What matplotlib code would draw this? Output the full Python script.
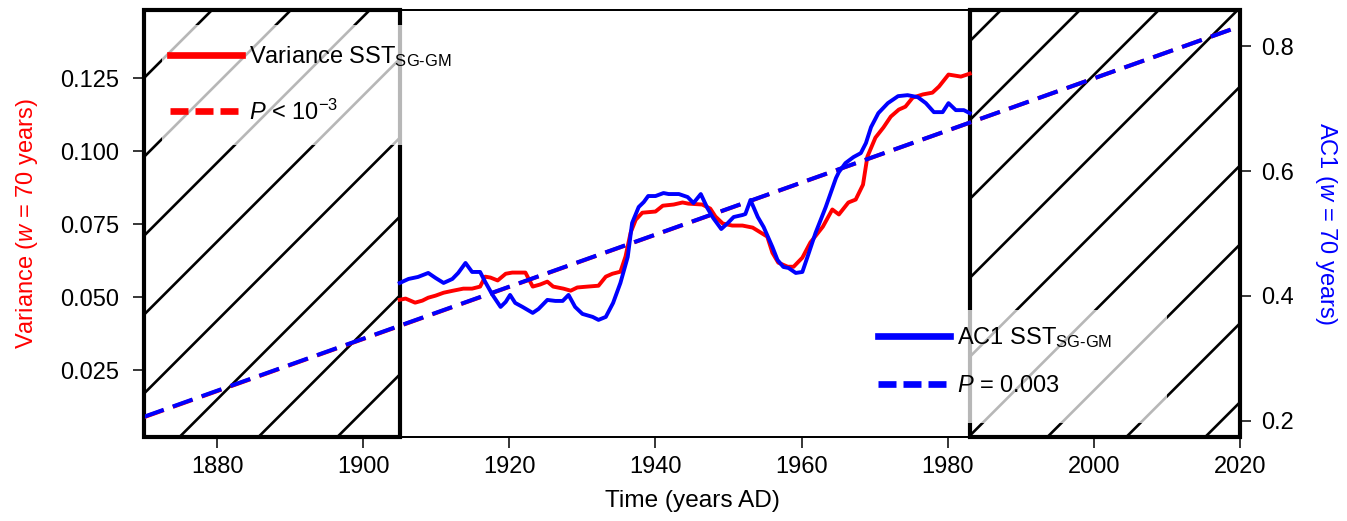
import matplotlib
matplotlib.use("Agg")
import matplotlib.pyplot as plt
import matplotlib.transforms as mtransforms
from matplotlib.lines import Line2D
from matplotlib.patches import Rectangle
import numpy as np

plt.rcParams["font.family"] = ["Liberation Sans", "DejaVu Sans"]
plt.rcParams["mathtext.fontset"] = "custom"
plt.rcParams["mathtext.rm"] = "Liberation Sans"
plt.rcParams["mathtext.it"] = "Liberation Sans:italic"
plt.rcParams["mathtext.bf"] = "Liberation Sans:bold"

RED = "#ff0000"
BLUE = "#0000ff"
FS = 17

# variance of SST (SG-GM), 70-year window (left axis)
VAR_YEARS = [1905.0, 1905.8, 1907.1, 1908.1, 1908.9, 1909.9, 1911.0, 1912.3, 1913.7, 1914.9,
             1916.0, 1916.7, 1917.4, 1918.4, 1919.5, 1920.4, 1922.2, 1923.2, 1924.2, 1925.2,
             1926.0, 1927.4, 1928.4, 1929.3, 1930.7, 1932.2, 1933.2, 1934.1, 1935.2, 1935.9,
             1936.6, 1937.3, 1938.2, 1940.0, 1941.0, 1942.5, 1943.7, 1944.5, 1946.4, 1947.5,
             1948.2, 1949.2, 1950.5, 1951.9, 1953.3, 1954.4, 1955.3, 1956.0, 1956.8, 1958.1,
             1958.9, 1960.1, 1961.2, 1962.9, 1964.2, 1965.1, 1966.4, 1967.4, 1968.4, 1969.0,
             1970.1, 1971.2, 1972.2, 1973.3, 1974.2, 1975.2, 1976.6, 1977.9, 1978.8, 1980.1,
             1981.8, 1983.0]
VAR_VALUES = [0.0491, 0.0495, 0.0481, 0.0488, 0.0498, 0.0505, 0.0515, 0.0522, 0.0529, 0.0529,
              0.0536, 0.0570, 0.0567, 0.0557, 0.0580, 0.0584, 0.0584, 0.0536, 0.0543, 0.0553,
              0.0536, 0.0529, 0.0522, 0.0533, 0.0536, 0.0539, 0.0570, 0.0580, 0.0587, 0.0639,
              0.0721, 0.0765, 0.0789, 0.0793, 0.0813, 0.0817, 0.0824, 0.0820, 0.0817, 0.0803,
              0.0776, 0.0752, 0.0745, 0.0745, 0.0738, 0.0721, 0.0707, 0.0652, 0.0618, 0.0604,
              0.0604, 0.0635, 0.0687, 0.0741, 0.0800, 0.0783, 0.0824, 0.0834, 0.0885, 0.0981,
              0.1046, 0.1081, 0.1118, 0.1142, 0.1152, 0.1183, 0.1194, 0.1200, 0.1221, 0.1262,
              0.1255, 0.1265]

# lag-1 autocorrelation of SST (SG-GM), 70-year window (right axis)
AC1_YEARS = [1905.0, 1906.2, 1907.5, 1908.9, 1909.9, 1911.0, 1912.2, 1913.0, 1914.0, 1914.9,
             1916.0, 1916.7, 1917.7, 1918.8, 1919.5, 1920.1, 1920.8, 1921.8, 1923.2, 1924.0,
             1925.2, 1926.3, 1927.3, 1928.1, 1929.0, 1930.0, 1931.4, 1932.2, 1933.2, 1934.2,
             1935.2, 1936.2, 1936.8, 1937.7, 1938.4, 1939.0, 1940.0, 1941.1, 1941.8, 1943.2,
             1944.4, 1945.2, 1946.2, 1947.1, 1947.9, 1949.0, 1949.9, 1950.7, 1951.9, 1952.3,
             1953.0, 1954.0, 1954.8, 1956.0, 1956.7, 1957.5, 1958.2, 1959.2, 1960.1, 1960.8,
             1961.9, 1963.3, 1964.7, 1965.1, 1966.0, 1967.1, 1968.1, 1968.8, 1969.5, 1970.5,
             1971.8, 1973.2, 1974.5, 1975.9, 1977.0, 1978.1, 1979.3, 1980.1, 1981.1, 1982.2,
             1983.0]
AC1_VALUES = [0.4208, 0.4272, 0.4304, 0.4368, 0.4288, 0.4208, 0.4272, 0.4368, 0.4528, 0.4384,
              0.4384, 0.4224, 0.4016, 0.3824, 0.3904, 0.4016, 0.3888, 0.3824, 0.3728, 0.3792,
              0.3936, 0.3920, 0.3920, 0.4016, 0.3824, 0.3712, 0.3664, 0.3616, 0.3664, 0.3888,
              0.4208, 0.4624, 0.5168, 0.5424, 0.5504, 0.5600, 0.5600, 0.5648, 0.5632, 0.5632,
              0.5584, 0.5488, 0.5632, 0.5408, 0.5248, 0.5072, 0.5168, 0.5264, 0.5296, 0.5312,
              0.5536, 0.5264, 0.5104, 0.4784, 0.4576, 0.4464, 0.4448, 0.4368, 0.4384, 0.4624,
              0.5008, 0.5424, 0.5888, 0.5984, 0.6128, 0.6224, 0.6288, 0.6448, 0.6704, 0.6928,
              0.7088, 0.7200, 0.7216, 0.7184, 0.7088, 0.6944, 0.6944, 0.7088, 0.6976, 0.6976,
              0.6928]

# linear trends (extrapolated across the whole axis)
TREND_YEARS = [1870, 2019.3]
VAR_TREND = [0.0089, 0.1421]
AC1_TREND = [0.2064, 0.8290]

# periods outside the analysed window (hatched)
HATCH_SPANS = [(1870, 1905), (1983, 2020)]

X_TICKS = [1880, 1900, 1920, 1940, 1960, 1980, 2000, 2020]
VAR_TICKS = [0.025, 0.050, 0.075, 0.100, 0.125]
AC1_TICKS = [0.2, 0.4, 0.6, 0.8]

VAR_LABELS = [r"Variance SST$_{\text{SG-GM}}$", r"$P$ < 10$^{-3}$"]
AC1_LABELS = [r"AC1 SST$_{\text{SG-GM}}$", r"$P$ = 0.003"]


def draw_hatching(ax, spans, spacing=78.9, offset=222.0):
    """Sparse 45-degree hatching, drawn in pixel space and clipped to each span."""
    fig_h = ax.figure.bbox.height
    xs = np.array([ax.bbox.x0 - 100, ax.bbox.x1 + 100])
    for start, end in spans:
        rect = ax.axvspan(start, end, facecolor="none", edgecolor="black",
                          linewidth=3, zorder=1.5, clip_on=False)
        for k in range(-10, 40):
            c = offset + k * spacing
            ln = Line2D(xs, fig_h - c + xs, transform=mtransforms.IdentityTransform(),
                        color="black", linewidth=1.9, zorder=1)
            ax.add_artist(ln)
            # clip after adding, otherwise add_artist resets it to the axes patch
            ln.set_clip_box(None)
            ln.set_clip_path(rect.get_path(), rect.get_transform())


def legend_box(ax, x0, y0, x1, y1):
    ax.add_patch(Rectangle((x0, y0), x1 - x0, y1 - y0, transform=ax.transAxes,
                           facecolor="white", edgecolor="none", alpha=0.72,
                           zorder=8, clip_on=False))


fig = plt.figure(figsize=(13.47, 5.21), dpi=100)
ax = fig.add_axes([0.1069, 0.1612, 0.8137, 0.8196])
ax.set_xlim(1870, 2020)
ax.set_ylim(0.0021, 0.1483)
ax2 = ax.twinx()
ax2.set_ylim(0.174, 0.858)

draw_hatching(ax, HATCH_SPANS)

ax.plot(TREND_YEARS, VAR_TREND, color=RED, linewidth=2.9, dashes=(5.2, 2.4), zorder=2)
ax.plot(VAR_YEARS, VAR_VALUES, color=RED, linewidth=2.8, zorder=3)
ax2.plot(TREND_YEARS, AC1_TREND, color=BLUE, linewidth=2.9, dashes=(5.2, 2.4), zorder=2)
ax2.plot(AC1_YEARS, AC1_VALUES, color=BLUE, linewidth=2.8, zorder=3)

for a in (ax, ax2):
    for sp in a.spines.values():
        sp.set_linewidth(1.3)

ax.set_xticks(X_TICKS)
ax.set_yticks(VAR_TICKS)
ax.set_yticklabels([f"{v:.3f}" for v in VAR_TICKS])
ax2.set_yticks(AC1_TICKS)
ax2.set_yticklabels([f"{v:.1f}" for v in AC1_TICKS])
ax.tick_params(axis="x", direction="out", length=8, width=1.1, labelsize=FS, pad=6)
ax.tick_params(axis="y", direction="out", length=8, width=1.1, labelsize=FS, pad=10)
ax2.tick_params(axis="y", direction="out", length=8, width=1.1, labelsize=FS, pad=7)

ax.set_xlabel("Time (years AD)", fontsize=17.6, labelpad=8)
ax.set_ylabel(r"Variance ($w$ = 70 years)", fontsize=FS, color=RED, labelpad=14)
ax2.set_ylabel(r"AC1 ($w$ = 70 years)", fontsize=FS, color=BLUE, rotation=270,
               va="bottom", labelpad=14)

# legends with translucent white boxes
legend_box(ax2, 0.0164, 0.684, 0.325, 0.965)
legend_box(ax2, 0.662, 0.033, 0.933, 0.297)

var_handles = [Line2D([], [], color=RED, linewidth=4.8),
               Line2D([], [], color=RED, linewidth=4.8, dashes=(2.7, 1.05))]
ac1_handles = [Line2D([], [], color=BLUE, linewidth=4.8),
               Line2D([], [], color=BLUE, linewidth=4.8, dashes=(2.7, 1.05))]
leg_kw = dict(frameon=False, fontsize=FS, handlelength=3.05, handletextpad=0.3,
              borderpad=0, borderaxespad=0, loc="upper left")
leg1 = ax2.legend(var_handles, VAR_LABELS, bbox_to_anchor=(0.0237, 0.919),
                  labelspacing=1.27, **leg_kw)
leg1.set_zorder(9)
ax2.add_artist(leg1)
leg2 = ax2.legend(ac1_handles, AC1_LABELS, bbox_to_anchor=(0.670, 0.261),
                  labelspacing=1.05, **leg_kw)
leg2.set_zorder(9)

fig.savefig("out.png", dpi=100)
